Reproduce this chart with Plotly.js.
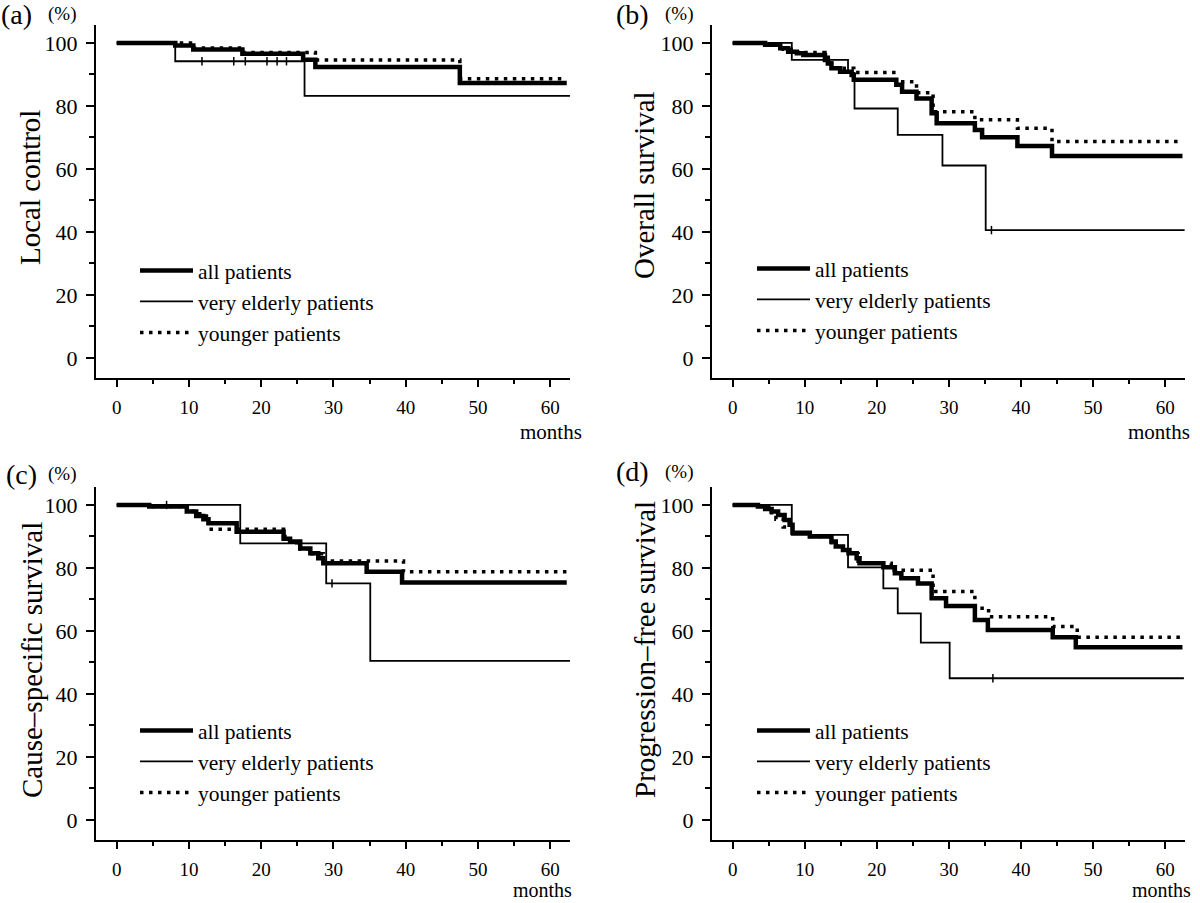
<!DOCTYPE html>
<html>
<head>
<meta charset="utf-8">
<script src="https://cdn.plot.ly/plotly-3.0.1.min.js"></script>
<style>html,body{margin:0;padding:0;background:#fff;}#chart{width:1200px;height:903px;}</style>
</head>
<body>
<div id="chart"></div>
<script>
// ---------- data (months, % surviving) ----------
const seriesNames = ["all patients", "very elderly patients", "younger patients"];
const panelLabels = ["(a)", "(b)", "(c)", "(d)"];
const yTitles = ["Local control", "Overall survival", "Cause\u2013specific survival", "Progression\u2013free survival"];
const yTickVals = [0, 20, 40, 60, 80, 100];
const xTickVals = [0, 10, 20, 30, 40, 50, 60];

// (a) Local control
const aAllT = [0, 8.1, 10.6, 17.4, 25.8, 27.5, 47.5, 62.3];
const aAllS = [100, 99.2, 97.9, 96.6, 94.7, 92.4, 87.3, 87.3];
const aEldT = [0, 8.1, 26.0, 62.8];
const aEldS = [100, 94.2, 83.2, 83.2];
const aYngT = [0, 10.6, 17.4, 27.5, 47.5, 62.3];
const aYngS = [100, 98.4, 97.0, 94.6, 88.6, 88.6];
const aEldCensT = [11.8, 16.2, 17.8, 20.8, 22.2, 23.5];
const aEldCensS = [94.2, 94.2, 94.2, 94.2, 94.2, 94.2];

// (b) Overall survival
const bAllT = [0, 4.5, 6.6, 7.7, 8.9, 9.8, 12.8, 13.2, 13.7, 14.9, 16.5, 16.8, 22.7, 23.5, 25.5, 27.6, 28.3, 33.6, 34.6, 39.5, 44.3, 62.4];
const bAllS = [100, 99.4, 98.3, 97.2, 96.7, 96.2, 94.6, 93.5, 92.0, 90.9, 89.8, 88.3, 86.7, 84.5, 82.4, 77.7, 74.5, 72.4, 70.1, 67.3, 64.1, 64.1];
const bEldT = [0, 8.2, 16.0, 16.9, 22.9, 29.1, 35.1, 62.7];
const bEldS = [100, 94.6, 90.5, 79.2, 70.8, 61.1, 40.6, 40.6];
const bYngT = [0, 4.5, 7.0, 9.0, 12.8, 13.7, 16.8, 22.6, 25.5, 27.8, 33.6, 39.5, 44.3, 62.4];
const bYngS = [100, 99.4, 98.0, 97.0, 95.5, 92.0, 90.6, 87.7, 84.2, 78.2, 75.6, 72.9, 68.7, 68.7];
const bEldCensT = [35.9];
const bEldCensS = [40.6];

// (c) Cause-specific survival
const cAllT = [0, 4.5, 9.7, 11.0, 12.0, 12.7, 16.6, 23.1, 24.0, 25.4, 26.8, 27.9, 28.6, 34.6, 39.5, 62.3];
const cAllS = [100, 99.5, 97.9, 96.5, 95.5, 94.2, 91.5, 89.3, 88.4, 86.2, 84.7, 83.1, 81.5, 78.8, 75.4, 75.4];
const cEldT = [0, 17.1, 29.0, 35.1, 62.8];
const cEldS = [100, 87.8, 75.1, 50.5, 50.5];
const cYngT = [0, 4.5, 9.7, 11.5, 12.7, 23.1, 24.0, 25.4, 27.0, 28.6, 39.7, 62.3];
const cYngS = [100, 99.5, 98.0, 96.5, 92.3, 90.0, 88.0, 86.0, 84.5, 82.2, 78.8, 78.8];
const cEldCensT = [6.9, 29.8];
const cEldCensS = [100, 75.1];

// (d) Progression-free survival
const dAllT = [0, 3.5, 4.5, 5.4, 6.3, 7.2, 7.9, 8.3, 10.7, 13.7, 14.3, 15.3, 16.2, 17.2, 17.6, 20.9, 22.5, 23.4, 25.7, 27.6, 29.6, 33.6, 35.4, 44.4, 47.6, 62.4];
const dAllS = [100, 99.5, 98.7, 97.9, 96.8, 95.2, 93.7, 91.2, 90.0, 88.4, 86.8, 85.7, 84.7, 83.1, 81.5, 80.2, 78.3, 76.7, 75.1, 70.4, 67.9, 63.5, 60.3, 58.0, 54.8, 54.8];
const dEldT = [0, 8.2, 16.0, 20.9, 22.9, 26.1, 30.1, 62.6];
const dEldS = [100, 90.5, 80.2, 73.5, 65.6, 56.3, 45.0, 45.0];
const dYngT = [0, 3.5, 5.0, 6.0, 7.0, 8.3, 10.7, 13.7, 14.5, 16.0, 17.4, 22.0, 27.8, 33.6, 35.5, 44.4, 47.8, 62.4];
const dYngS = [100, 99.5, 97.5, 95.5, 93.0, 91.0, 90.0, 88.0, 86.0, 84.5, 81.5, 79.3, 72.5, 67.2, 64.5, 61.4, 58.0, 58.0];
const dEldCensT = [36.1];
const dEldCensS = [45.0];

// ---------- build ----------
const FONT = "'Liberation Serif', 'Times New Roman', Times, serif";
const panels = [
  {xa: "x",  ya: "y",  lg: "legend",  all: [aAllT, aAllS], eld: [aEldT, aEldS], yng: [aYngT, aYngS], cens: [aEldCensT, aEldCensS]},
  {xa: "x2", ya: "y2", lg: "legend2", all: [bAllT, bAllS], eld: [bEldT, bEldS], yng: [bYngT, bYngS], cens: [bEldCensT, bEldCensS]},
  {xa: "x3", ya: "y3", lg: "legend3", all: [cAllT, cAllS], eld: [cEldT, cEldS], yng: [cYngT, cYngS], cens: [cEldCensT, cEldCensS]},
  {xa: "x4", ya: "y4", lg: "legend4", all: [dAllT, dAllS], eld: [dEldT, dEldS], yng: [dYngT, dYngS], cens: [dEldCensT, dEldCensS]}
];

const styles = {
  all: {color: "#000", width: 4.5, dash: "solid"},
  eld: {color: "#000", width: 1.8, dash: "solid"},
  yng: {color: "#000", width: 3.5, dash: "3.5px,5.5px"}
};

const traces = [];
panels.forEach(p => {
  [["eld", 1], ["yng", 2], ["all", 0]].forEach(([k, idx]) => {
    traces.push({
      type: "scatter", mode: "lines",
      x: p[k][0], y: p[k][1],
      xaxis: p.xa, yaxis: p.ya,
      name: seriesNames[idx],
      legend: p.lg, legendrank: idx + 1,
      line: {shape: "hv", color: styles[k].color, width: styles[k].width, dash: styles[k].dash},
      hoverinfo: "skip"
    });
  });
  traces.push({
    type: "scatter", mode: "markers",
    x: p.cens[0], y: p.cens[1],
    xaxis: p.xa, yaxis: p.ya,
    name: seriesNames[1] + " (censored)", showlegend: false,
    marker: {symbol: "line-ns", size: 6, color: "#000", line: {width: 1.5, color: "#000"}},
    hoverinfo: "skip"
  });
});

function yAxis(dom, anchor) {
  return {
    domain: dom, anchor: anchor, range: [-6.35, 105.7],
    tickmode: "array", tickvals: yTickVals,
    ticks: "outside", ticklen: 8, tickwidth: 2, tickcolor: "#000",
    minor: {dtick: 10, tick0: 0, ticks: "outside", ticklen: 5, tickwidth: 2, tickcolor: "#000", showgrid: false},
    showline: true, linewidth: 2, linecolor: "#000",
    showgrid: false, zeroline: false,
    tickfont: {family: FONT, size: 22, color: "#000"},
    ticklabelstandoff: 4, fixedrange: true
  };
}
function xAxis(dom, anchor) {
  return {
    domain: dom, anchor: anchor, range: [-2.87, 62.75],
    tickmode: "array", tickvals: xTickVals,
    ticks: "outside", ticklen: 7, tickwidth: 2, tickcolor: "#000",
    minor: {dtick: 5, tick0: 0, ticks: "outside", ticklen: 4, tickwidth: 2, tickcolor: "#000", showgrid: false},
    showline: true, linewidth: 2, linecolor: "#000",
    showgrid: false, zeroline: false,
    tickfont: {family: FONT, size: 19, color: "#000"},
    ticklabelstandoff: 4, fixedrange: true
  };
}

const W = 1200, H = 903;
const px = v => v / W, py = v => 1 - v / H;
const leftDom = [px(96), px(570)], rightDom = [px(712), px(1185)];
const topDom = [py(378), py(25)], botDom = [py(840), py(487)];

function legendAt(xPix, yPix) {
  return {
    x: px(xPix), y: py(yPix), xanchor: "left", yanchor: "top",
    bgcolor: "rgba(0,0,0,0)", borderwidth: 0,
    font: {family: FONT, size: 21.5, color: "#000"},
    itemwidth: 53, traceorder: "normal", tracegroupgap: 0
  };
}

const ann = [];
function addText(text, xPix, yPix, size, opts) {
  ann.push(Object.assign({
    text: text, xref: "paper", yref: "paper", x: px(xPix), y: py(yPix),
    showarrow: false, font: {family: FONT, size: size, color: "#000"},
    xanchor: "center", yanchor: "middle", borderpad: 0
  }, opts || {}));
}
// panel letters and (%)
addText(panelLabels[0], 0, 14, 28, {xanchor: "left"});
addText("(%)", 47, 14, 19, {xanchor: "left"});
addText(panelLabels[1], 615, 14, 28, {xanchor: "left"});
addText("(%)", 664, 14, 19, {xanchor: "left"});
addText(panelLabels[2], 5, 474, 28, {xanchor: "left"});
addText("(%)", 47, 474, 19, {xanchor: "left"});
addText(panelLabels[3], 615, 472, 28, {xanchor: "left"});
addText("(%)", 664, 472, 19, {xanchor: "left"});
// y titles
addText(yTitles[0], 30, 188, 29, {textangle: -90});
addText(yTitles[1], 644, 185, 29, {textangle: -90});
addText(yTitles[2], 32, 660, 29, {textangle: -90});
addText(yTitles[3], 645, 650, 29, {textangle: -90});
// months
addText("months", 551, 432, 21);
addText("months", 1159, 432, 21);
addText("months", 542, 890, 20);
addText("months", 1161, 890, 20);

const layout = {
  width: W, height: H,
  margin: {l: 0, r: 0, t: 0, b: 0},
  paper_bgcolor: "#fff", plot_bgcolor: "#fff",
  font: {family: FONT, color: "#000"},
  showlegend: true,
  xaxis: xAxis(leftDom, "y"), yaxis: yAxis(topDom, "x"),
  xaxis2: xAxis(rightDom, "y2"), yaxis2: yAxis(topDom, "x2"),
  xaxis3: xAxis(leftDom, "y3"), yaxis3: yAxis(botDom, "x3"),
  xaxis4: xAxis(rightDom, "y4"), yaxis4: yAxis(botDom, "x4"),
  legend: legendAt(135, 250),
  legend2: legendAt(752, 248),
  legend3: legendAt(135, 710),
  legend4: legendAt(752, 710),
  annotations: ann
};

Plotly.newPlot("chart", traces, layout, {displayModeBar: false, staticPlot: true});
</script>
</body>
</html>
